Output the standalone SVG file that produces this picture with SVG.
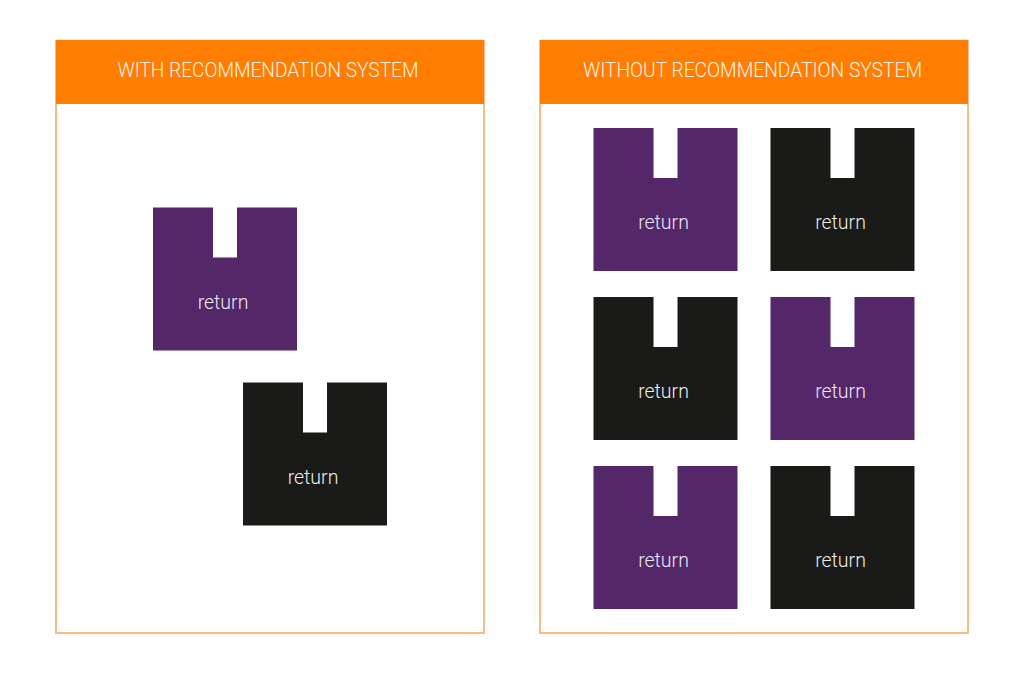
<svg xmlns="http://www.w3.org/2000/svg" width="1024" height="674" viewBox="0 0 1024 674">
<defs>
<style>
.panel{fill:#ffffff;stroke:#F9A45E;stroke-width:1.5}
.head{fill:#FF7D00}
.htxt{font-family:Roboto,"Liberation Sans",Arial,sans-serif;font-weight:300;font-size:20px;fill:#FFF4E8;text-anchor:middle}
.btxt{font-family:Roboto,"Liberation Sans",Arial,sans-serif;font-weight:300;font-size:19.5px;text-anchor:middle}
.purple{fill:#532768}
.black{fill:#1A1A18}
.ptxt{fill:#EEE8F2}
.ktxt{fill:#EDEDED}
</style>
<path id="box" d="M0,0 H60 V50 H84 V0 H144 V143 H0 Z"/>
</defs>
<rect width="1024" height="674" fill="#ffffff"/>
<g id="panel-with">
<rect class="panel" x="56" y="40.5" width="428" height="592.5"/>
<rect class="head" x="56" y="40" width="428" height="64"/>
<text class="htxt" x="268" y="76.5" textLength="301" lengthAdjust="spacingAndGlyphs">WITH RECOMMENDATION SYSTEM</text>
</g>
<g id="panel-without">
<rect class="panel" x="540" y="40.5" width="428" height="592.5"/>
<rect class="head" x="540" y="40" width="428" height="64"/>
<text class="htxt" x="752.5" y="76.5" textLength="339" lengthAdjust="spacingAndGlyphs">WITHOUT RECOMMENDATION SYSTEM</text>
</g>
<g id="w-box1"><use href="#box" class="purple" x="153" y="207.5"/><text class="btxt ptxt" x="223" y="309">return</text></g>
<g id="w-box2"><use href="#box" class="black" x="243" y="382.5"/><text class="btxt ktxt" x="313" y="484">return</text></g>
<g id="wo-box1"><use href="#box" class="purple" x="593.5" y="128"/><text class="btxt ptxt" x="663.5" y="229">return</text></g>
<g id="wo-box2"><use href="#box" class="black" x="770.5" y="128"/><text class="btxt ktxt" x="840.5" y="229">return</text></g>
<g id="wo-box3"><use href="#box" class="black" x="593.5" y="297"/><text class="btxt ktxt" x="663.5" y="398">return</text></g>
<g id="wo-box4"><use href="#box" class="purple" x="770.5" y="297"/><text class="btxt ptxt" x="840.5" y="398">return</text></g>
<g id="wo-box5"><use href="#box" class="purple" x="593.5" y="466"/><text class="btxt ptxt" x="663.5" y="567">return</text></g>
<g id="wo-box6"><use href="#box" class="black" x="770.5" y="466"/><text class="btxt ktxt" x="840.5" y="567">return</text></g>
<g id="connectors"/>
</svg>
